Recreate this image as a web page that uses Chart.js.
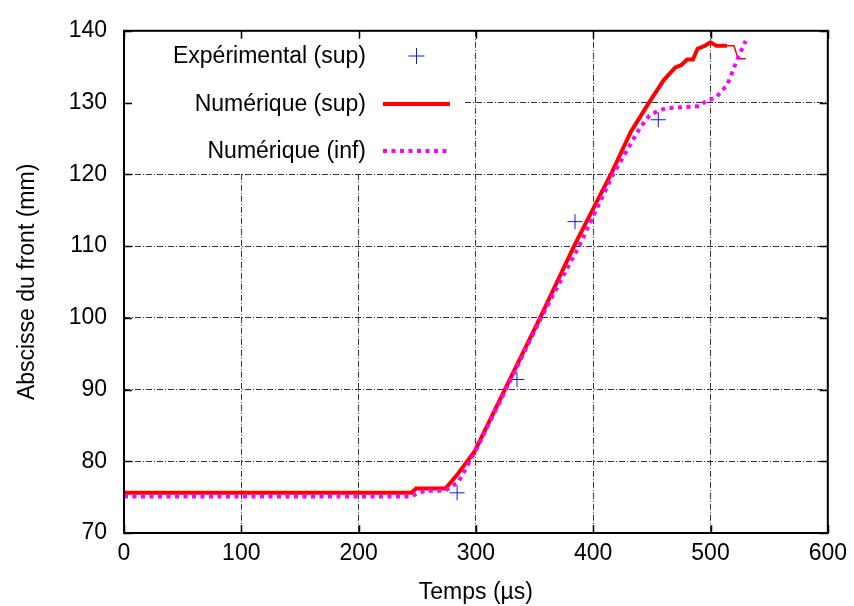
<!DOCTYPE html>
<html>
<head>
<meta charset="utf-8">
<script src="https://cdn.jsdelivr.net/npm/chart.js@4/dist/chart.umd.min.js"></script>
<style>
  html, body { margin: 0; padding: 0; background: #fff; }
  canvas { display: block; }
</style>
</head>
<body>
<canvas id="chart-front" width="854" height="606"></canvas>
<script>
  /* ======================= DATA ======================= */

  // Expérimental (sup)
  const expTemps = [284, 335, 384.5, 455.5];
  const expAbscisse = [75.6, 91.4, 113.4, 127.6];

  // Numérique (sup)
  const supTemps = [0, 245, 249, 274, 283.5, 299, 325, 355, 384, 416, 432, 440, 448, 460, 470, 475, 480, 485, 489, 495, 500, 505, 514, 520, 523.5, 530];
  const supAbscisse = [75.6, 75.6, 76.2, 76.2, 78.0, 81.4, 90.1, 100.1, 110.1, 120.3, 125.9, 128.0, 130.1, 133.1, 134.9, 135.2, 136.0, 136.0, 137.5, 137.9, 138.4, 137.9, 137.9, 137.9, 136.1, 136.1];

  // Numérique (inf)
  const infTemps = [0, 245, 250, 257, 274, 285, 299, 325, 355, 388, 417, 440, 448, 455, 462, 491, 497, 504, 508, 514, 518, 523, 530];
  const infAbscisse = [75.1, 75.1, 75.5, 75.9, 75.9, 77.1, 81.2, 89.8, 99.8, 110.0, 120.0, 126.5, 128.2, 128.8, 129.2, 129.5, 130.35, 130.6, 131.3, 132.4, 134.0, 136.1, 138.6];

  const legendLabels = ["Expérimental (sup)", "Numérique (sup)", "Numérique (inf)"];
  const xTitle = "Temps (µs)";
  const yTitle = "Abscisse du front (mm)";

  /* ======================= DOM ======================= */

  const FONT = "'Liberation Sans', Arial, Helvetica, sans-serif";
  const toPoints = (xs, ys) => xs.map((x, i) => ({ x, y: ys[i] }));

  // grid masked by the legend, inward ticks, frame, legend
  const framePlugin = {
    id: 'frame',
    beforeDatasetsDraw(chart) {
      const { ctx, chartArea: a } = chart;
      ctx.save();
      ctx.fillStyle = '#fff';
      ctx.fillRect(a.left + 1, a.top + 1, 338, 142);
      ctx.restore();
    },
    afterDatasetsDraw(chart) {
      const { ctx, chartArea: a, scales } = chart;
      ctx.save();
      ctx.strokeStyle = '#000';
      ctx.lineWidth = 1.5;
      ctx.beginPath();
      scales.x.ticks.forEach(t => {
        const px = Math.round(scales.x.getPixelForValue(t.value)) + 0.5;
        ctx.moveTo(px, a.bottom); ctx.lineTo(px, a.bottom - 8);
        ctx.moveTo(px, a.top); ctx.lineTo(px, a.top + 8);
      });
      scales.y.ticks.forEach(t => {
        const py = Math.round(scales.y.getPixelForValue(t.value)) + 0.5;
        ctx.moveTo(a.left, py); ctx.lineTo(a.left + 8, py);
        ctx.moveTo(a.right, py); ctx.lineTo(a.right - 8, py);
      });
      ctx.stroke();

      ctx.lineWidth = 2;
      ctx.strokeRect(a.left, a.top, a.right - a.left, a.bottom - a.top);

      // legend
      const rows = [56, 104, 151];
      const textRight = 366, s0 = 383, s1 = 450;
      ctx.font = "23px " + FONT;
      ctx.fillStyle = '#000';
      ctx.textAlign = 'right';
      ctx.textBaseline = 'middle';
      legendLabels.forEach((lbl, i) => ctx.fillText(lbl, textRight, rows[i] + 1));

      const dsExp = chart.data.datasets[0];
      const cx = (s0 + s1) / 2;
      ctx.strokeStyle = dsExp.borderColor;
      ctx.lineWidth = 1;
      ctx.beginPath();
      ctx.moveTo(cx - 8, rows[0]); ctx.lineTo(cx + 8, rows[0]);
      ctx.moveTo(cx, rows[0] - 8); ctx.lineTo(cx, rows[0] + 8);
      ctx.stroke();

      [1, 2].forEach(i => {
        const ds = chart.data.datasets[i];
        ctx.strokeStyle = ds.borderColor;
        ctx.lineWidth = ds.borderWidth;
        ctx.setLineDash(ds.borderDash || []);
        ctx.beginPath();
        ctx.moveTo(s0, rows[i]); ctx.lineTo(s1, rows[i]);
        ctx.stroke();
      });
      ctx.restore();
    }
  };

  const gridOpts = { color: 'rgba(0,0,0,0.8)', lineWidth: 1, drawTicks: false };
  const borderOpts = { display: false, dash: [6, 2, 1, 2] };

  let chart = new Chart(document.getElementById('chart-front').getContext('2d'), {
    type: 'line',
    data: {
      datasets: [{
        label: legendLabels[0],
        data: toPoints(expTemps, expAbscisse),
        showLine: false,
        pointStyle: 'cross',
        pointRadius: 7.5,
        pointBorderWidth: 1,
        borderColor: 'rgb(20,20,255)',
        backgroundColor: 'rgb(20,20,255)',
        order: 3
      }, {
        label: legendLabels[1],
        data: toPoints(supTemps, supAbscisse),
        borderColor: '#ff0000',
        borderWidth: 4,
        pointRadius: 0,
        tension: 0,
        segment: { borderWidth: c => c.p0.parsed.x >= 514 ? 1.5 : 4 },
        order: 2
      }, {
        label: legendLabels[2],
        data: toPoints(infTemps, infAbscisse),
        borderColor: '#ff00ff',
        borderWidth: 4,
        borderDash: [4, 4.5],
        borderCapStyle: 'butt',
        pointRadius: 0,
        tension: 0,
        order: 1
      }]
    },
    options: {
      responsive: false,
      animation: false,
      devicePixelRatio: 1,
      layout: { padding: { top: 25, right: 26, left: 0, bottom: 0 } },
      plugins: { legend: { display: false }, tooltip: { enabled: false } },
      scales: {
        x: {
          type: 'linear', min: 0, max: 600,
          grid: gridOpts, border: borderOpts,
          ticks: { stepSize: 100, padding: 7, color: '#000', font: { family: FONT, size: 23 } },
          title: { display: true, text: xTitle, color: '#000', padding: { top: 0, bottom: 0 }, font: { family: FONT, size: 23 } },
          afterFit: s => { s.height = 73; }
        },
        y: {
          min: 70, max: 140,
          grid: gridOpts, border: borderOpts,
          ticks: { stepSize: 10, padding: 17, color: '#000', font: { family: FONT, size: 23 } },
          title: { display: true, text: yTitle, color: '#000', padding: { top: 14, bottom: 0 }, font: { family: FONT, size: 23 } },
          afterFit: s => { s.width = 124; }
        }
      }
    },
    plugins: [framePlugin]
  });
</script>
</body>
</html>
